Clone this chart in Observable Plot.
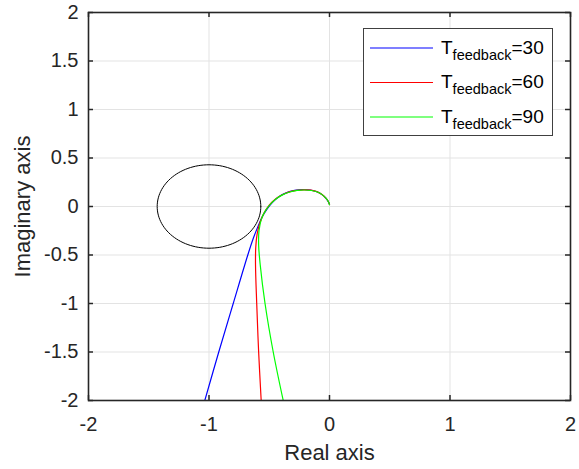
<!DOCTYPE html>
<html><head><meta charset="utf-8">
<script src="https://cdn.jsdelivr.net/npm/d3@7"></script>
<script src="https://cdn.jsdelivr.net/npm/@observablehq/plot@0.6"></script>
<style>
body{margin:0;background:#fff;}
#wrap{position:relative;width:579px;height:469px;font-family:Arial,"Liberation Sans",sans-serif;}
#legend{position:absolute;left:363px;top:28px;}
</style>
</head><body><div id="wrap"></div>
<script>
const xTicks = [-2, -1, 0, 1, 2];
const yTicks = [-2, -1.5, -1, -0.5, 0, 0.5, 1, 1.5, 2];
const xTickLabels = ["-2", "-1", "0", "1", "2"];
const yTickLabels = ["-2", "-1.5", "-1", "-0.5", "0", "0.5", "1", "1.5", "2"];

const seriesNames = ["30", "60", "90"];
const seriesColors = ["#0000ff", "#ff0000", "#00ff00"];

const blueRe = [-1.035,-0.919,-0.799,-0.678,-0.63,-0.595,-0.56,-0.52,-0.475,-0.42,-0.36,-0.29,-0.22,-0.16,-0.11,-0.065,-0.03,-0.01,0];
const blueIm = [-2,-1.5,-1,-0.5,-0.32,-0.21,-0.11,-0.03,0.04,0.1,0.14,0.166,0.175,0.17,0.155,0.125,0.085,0.05,0.022];
const redRe = [-0.567,-0.588,-0.604,-0.614,-0.612,-0.6,-0.575,-0.54,-0.5,-0.455,-0.4,-0.34,-0.275,-0.21,-0.155,-0.105,-0.062,-0.028,-0.009,0];
const redIm = [-2,-1.5,-1,-0.6,-0.42,-0.28,-0.16,-0.06,0.015,0.07,0.115,0.148,0.166,0.172,0.168,0.153,0.123,0.083,0.048,0.02];
const greenRe = [-0.384,-0.467,-0.535,-0.575,-0.588,-0.585,-0.565,-0.53,-0.49,-0.445,-0.39,-0.33,-0.268,-0.205,-0.15,-0.1,-0.058,-0.026,-0.008,0];
const greenIm = [-2,-1.5,-1,-0.6,-0.4,-0.25,-0.13,-0.04,0.025,0.078,0.12,0.15,0.166,0.17,0.165,0.15,0.12,0.08,0.046,0.018];

const circleCenter = [-1, 0];
const circleRadius = 0.43;

const curves = [
  {re: blueRe, im: blueIm},
  {re: redRe, im: redIm},
  {re: greenRe, im: greenIm}
].map((c, k) => c.re.map((r, i) => ({x: r, y: c.im[i], s: seriesNames[k]})));

const circlePts = d3.range(0, 361, 3).map(a => ({
  x: circleCenter[0] + circleRadius * Math.cos(a * Math.PI / 180),
  y: circleCenter[1] + circleRadius * Math.sin(a * Math.PI / 180)
}));

const W = 579, H = 469, mL = 88, mR = 9, mT = 12, mB = 69;
const fw = W - mL - mR, fh = H - mT - mB;
const ink = "#262626";
const tickLen = 5;

const chart = Plot.plot({
  width: W, height: H,
  marginLeft: mL, marginRight: mR, marginTop: mT, marginBottom: mB,
  style: {fontFamily: "Arial, 'Liberation Sans', sans-serif", background: "#fff", color: ink},
  x: {domain: [-2, 2]},
  y: {domain: [-2, 2]},
  marks: [
    Plot.ruleX(xTicks, {x: d => d, stroke: "#e3e3e3", strokeWidth: 1}),
    Plot.ruleY(yTicks, {y: d => d, stroke: "#e3e3e3", strokeWidth: 1}),
    Plot.line(circlePts, {x: "x", y: "y", stroke: "#000", strokeWidth: 1}),
    ...curves.map((c, k) => Plot.line(c, {x: "x", y: "y", stroke: seriesColors[k], strokeWidth: 1.2, curve: "catmull-rom", clip: true})),
    Plot.ruleX(xTicks, {x: d => d, insetTop: fh - tickLen, stroke: ink, strokeWidth: 1.5}),
    Plot.ruleX(xTicks, {x: d => d, insetBottom: fh - tickLen, stroke: ink, strokeWidth: 1.5}),
    Plot.ruleY(yTicks, {y: d => d, insetRight: fw - tickLen, stroke: ink, strokeWidth: 1.5}),
    Plot.ruleY(yTicks, {y: d => d, insetLeft: fw - tickLen, stroke: ink, strokeWidth: 1.5}),
    Plot.frame({stroke: ink, strokeWidth: 1.6}),
    Plot.axisX(xTicks, {tickSize: 0, tickPadding: 16, fontSize: 20, label: null, tickFormat: (d) => xTickLabels[xTicks.indexOf(d)], fill: ink}),
    Plot.axisY(yTicks, {tickSize: 0, tickPadding: 10, fontSize: 20, label: null, tickFormat: (d) => yTickLabels[yTicks.indexOf(d)], fill: ink}),
    Plot.text(["Real axis"], {frameAnchor: "bottom", text: d => d, dy: 59, fontSize: 22, fill: ink, textAnchor: "middle"}),
    Plot.text(["Imaginary axis"], {frameAnchor: "left", text: d => d, dx: -66, rotate: -90, fontSize: 22, fill: ink, textAnchor: "middle"})
  ]
});

const wrap = document.getElementById("wrap");
wrap.appendChild(chart);

// legend
const lw = 190, lh = 108;
const leg = d3.create("svg").attr("id", "legend").attr("width", lw).attr("height", lh)
  .style("font-family", "Arial, 'Liberation Sans', sans-serif");
leg.append("rect").attr("x", 0.5).attr("y", 0.5).attr("width", lw - 1).attr("height", lh - 1)
  .attr("fill", "#fff").attr("stroke", "#404040").attr("stroke-width", 1);
seriesNames.forEach((n, k) => {
  const cy = 20 + k * 34.5;
  leg.append("line").attr("x1", 7).attr("x2", 70).attr("y1", cy).attr("y2", cy)
    .attr("stroke", seriesColors[k]).attr("stroke-width", 1.2);
  const t = leg.append("text").attr("x", 78).attr("y", cy + 5.5).attr("fill", "#000").attr("font-size", 19);
  t.append("tspan").text("T");
  t.append("tspan").attr("dy", 6).attr("font-size", 14.5).text("feedback");
  t.append("tspan").attr("dy", -6).text("=" + n);
});
wrap.appendChild(leg.node());
</script>
</body></html>
